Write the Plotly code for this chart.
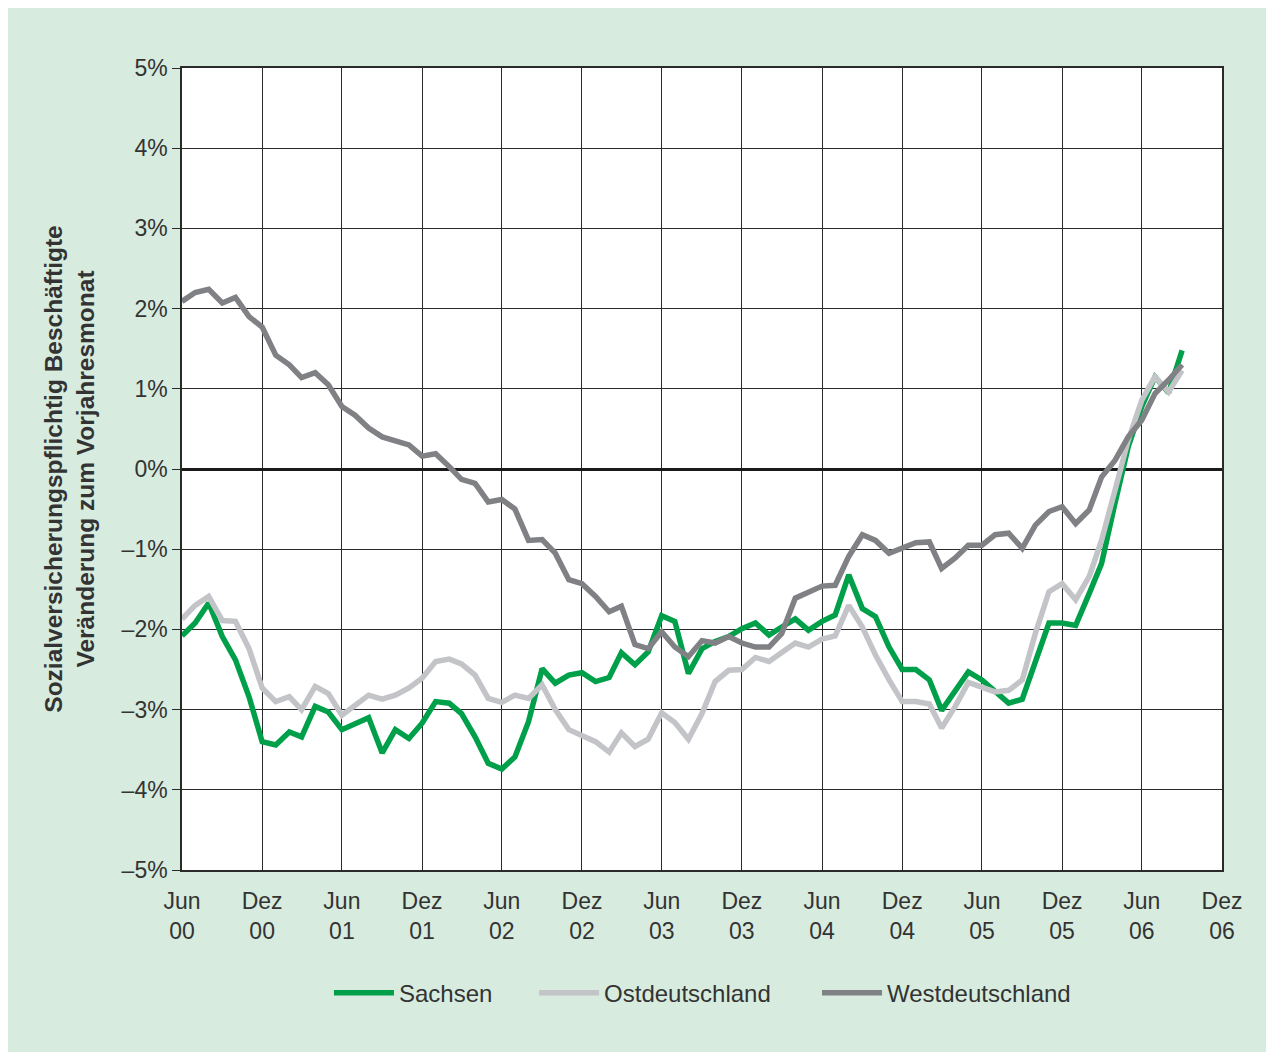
import pandas as pd
import plotly.graph_objects as go

# Monthly values, Jun 2000 .. Sep 2006 (percent change vs. prior-year month)
months = pd.date_range("2000-06-01", periods=76, freq="MS")

sachsen = [-2.08, -1.92, -1.67, -2.09, -2.38, -2.84, -3.40, -3.44, -3.28, -3.34,
           -2.96, -3.03, -3.25, -3.17, -3.10, -3.54, -3.25, -3.36, -3.17, -2.90,
           -2.92, -3.05, -3.34, -3.67, -3.74, -3.59, -3.15, -2.49, -2.67, -2.57,
           -2.54, -2.65, -2.60, -2.29, -2.44, -2.28, -1.83, -1.90, -2.55, -2.24,
           -2.15, -2.09, -1.99, -1.92, -2.07, -1.97, -1.87, -2.01, -1.90, -1.82,
           -1.32, -1.74, -1.84, -2.22, -2.50, -2.50, -2.63, -3.01, -2.76, -2.53,
           -2.63, -2.78, -2.92, -2.87, -2.40, -1.92, -1.92, -1.95, -1.55, -1.18,
           -0.42, 0.28, 0.78, 1.15, 0.95, 1.48]

ost = [-1.87, -1.70, -1.59, -1.89, -1.90, -2.24, -2.73, -2.90, -2.84, -3.00,
       -2.71, -2.80, -3.07, -2.94, -2.82, -2.87, -2.82, -2.73, -2.61, -2.40,
       -2.37, -2.43, -2.57, -2.86, -2.91, -2.82, -2.86, -2.69, -3.00, -3.25,
       -3.32, -3.40, -3.53, -3.29, -3.46, -3.37, -3.04, -3.16, -3.37, -3.05,
       -2.65, -2.51, -2.50, -2.35, -2.40, -2.28, -2.17, -2.22, -2.12, -2.08,
       -1.70, -1.97, -2.32, -2.63, -2.90, -2.90, -2.93, -3.23, -2.96, -2.66,
       -2.72, -2.78, -2.76, -2.63, -2.05, -1.53, -1.43, -1.63, -1.34, -0.89,
       -0.26, 0.36, 0.86, 1.15, 0.96, 1.23]

west = [2.09, 2.20, 2.24, 2.07, 2.14, 1.90, 1.77, 1.42, 1.30, 1.14,
        1.20, 1.05, 0.78, 0.67, 0.51, 0.40, 0.35, 0.30, 0.16, 0.19,
        0.03, -0.13, -0.18, -0.41, -0.38, -0.50, -0.89, -0.88, -1.05, -1.38,
        -1.43, -1.59, -1.78, -1.71, -2.19, -2.24, -2.03, -2.22, -2.34, -2.14,
        -2.17, -2.09, -2.17, -2.22, -2.22, -2.05, -1.61, -1.54, -1.46, -1.45,
        -1.09, -0.82, -0.89, -1.05, -0.99, -0.92, -0.91, -1.24, -1.11, -0.95,
        -0.95, -0.82, -0.80, -0.99, -0.70, -0.53, -0.47, -0.68, -0.51, -0.10,
        0.11, 0.40, 0.61, 0.94, 1.11, 1.30]

x_tickvals = ["2000-06-01", "2000-12-01", "2001-06-01", "2001-12-01", "2002-06-01",
              "2002-12-01", "2003-06-01", "2003-12-01", "2004-06-01", "2004-12-01",
              "2005-06-01", "2005-12-01", "2006-06-01", "2006-12-01"]
x_ticktext = ["Jun<br>00", "Dez<br>00", "Jun<br>01", "Dez<br>01", "Jun<br>02",
              "Dez<br>02", "Jun<br>03", "Dez<br>03", "Jun<br>04", "Dez<br>04",
              "Jun<br>05", "Dez<br>05", "Jun<br>06", "Dez<br>06"]
y_tickvals = [5, 4, 3, 2, 1, 0, -1, -2, -3, -4, -5]
y_ticktext = ["5%", "4%", "3%", "2%", "1%", "0%", "–1%", "–2%", "–3%", "–4%", "–5%"]

series_names = ["Sachsen", "Ostdeutschland", "Westdeutschland"]
series_colors = ["#00a04b", "#c3c4c7", "#808184"]
legend_ids = ["legend", "legend2", "legend3"]
legend_x = [0.1413, 0.3385, 0.6106]

FONT = "Liberation Sans, Arial, Helvetica, sans-serif"
TXT = "#333333"

fig = go.Figure()
for name, vals, col, lid in zip(series_names, [sachsen, ost, west], series_colors, legend_ids):
    fig.add_trace(go.Scatter(x=months, y=vals, mode="lines", name=name, legend=lid,
                             line=dict(color=col, width=5.5)))

legend_common = dict(orientation="h", xanchor="left", y=-0.1534, yanchor="middle",
                     font=dict(size=24, color=TXT), itemwidth=60,
                     bgcolor="rgba(0,0,0,0)")

fig.update_layout(
    width=1266, height=1044,
    margin=dict(l=174, r=52, t=60, b=182),
    paper_bgcolor="#d7ebde",
    plot_bgcolor="#ffffff",
    font=dict(family=FONT, color=TXT, size=23),
    showlegend=True,
    legend=dict(x=legend_x[0], **legend_common),
    legend2=dict(x=legend_x[1], **legend_common),
    legend3=dict(x=legend_x[2], **legend_common),
    xaxis=dict(
        type="date",
        range=["2000-06-01", "2006-12-01"],
        tickmode="array", tickvals=x_tickvals, ticktext=x_ticktext,
        showgrid=True, gridcolor="#2a2a2a", gridwidth=1.3,
        showline=True, linecolor="#2a2a2a", linewidth=1.5, mirror=True,
        ticks="", ticklabelstandoff=10,
        tickfont=dict(size=23, color=TXT),
        zeroline=False,
    ),
    yaxis=dict(
        range=[-5, 5],
        tickmode="array", tickvals=y_tickvals, ticktext=y_ticktext,
        showgrid=True, gridcolor="#2a2a2a", gridwidth=1.3,
        showline=True, linecolor="#2a2a2a", linewidth=1.5, mirror=True,
        ticks="outside", ticklen=8, tickwidth=1.3, tickcolor="#2a2a2a",
        tickfont=dict(size=23, color=TXT),
        zeroline=True, zerolinecolor="#1a1a1a", zerolinewidth=3,
        title=dict(text="<b>Sozialversicherungspflichtig Beschäftigte<br>Veränderung zum Vorjahresmonat</b>",
                   font=dict(size=24.5, color=TXT), standoff=20),
        automargin=False,
    ),
)

fig.write_html("out.html")
